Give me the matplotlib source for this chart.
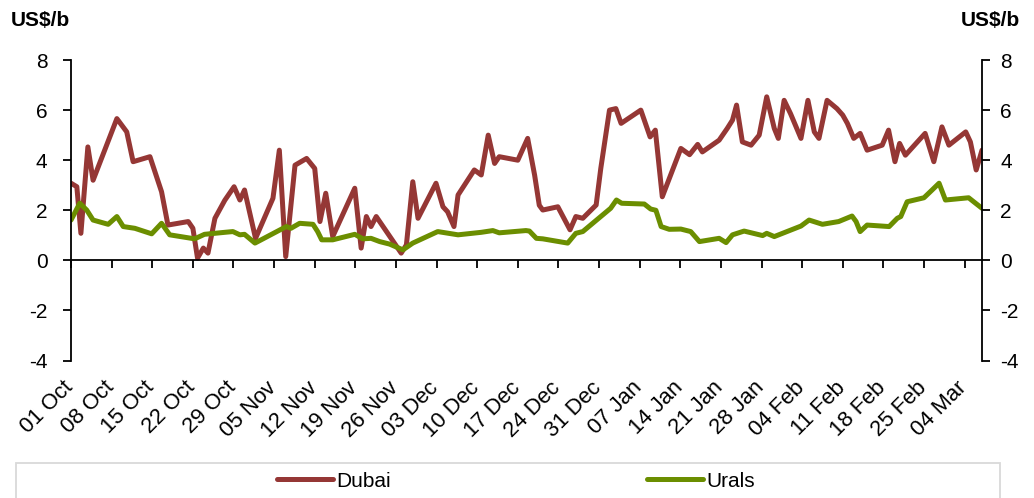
#!/usr/bin/env python3
"""
Dubai and Urals crude differentials, US$/b, Oct to early Mar.

Values are read by eye off a chart; x is days since 01 Oct.
"""

import pandas as pd
import matplotlib.pyplot as plt
from matplotlib.patches import Rectangle
from matplotlib.transforms import ScaledTranslation


# =============================================================================
# Data
# =============================================================================

START = pd.Timestamp("2018-10-01")
X_MAX = 157

DUBAI_DAYS = [
    0, 1.0, 1.7, 2.9, 3.8, 7.9, 9.6, 10.7, 13.6, 15.6, 16.7, 20.2, 21.0,
    21.8, 22.8, 23.6, 24.8, 26.5, 28.1, 29.1, 29.9, 31.8, 34.8, 35.9, 37.0,
    38.6, 40.6, 42.0, 42.9, 43.9, 45.1, 48.9, 50.0, 50.9, 51.7, 52.6, 56.9,
    57.8, 58.9, 59.8, 62.9, 64.1, 64.9, 66.0, 66.7, 69.5, 70.7, 71.9, 73.0,
    73.8, 77.0, 78.7, 79.9, 80.7, 81.3, 83.9, 86.0, 87.0, 88.2, 90.5, 91.3,
    92.8, 93.9, 94.8, 98.2, 99.8, 100.7, 101.9, 105.1, 106.6, 108.0, 108.8,
    111.7, 113.1, 114.0, 114.7, 115.7, 117.2, 118.6, 119.9, 121.2, 121.9,
    122.9, 124.0, 125.8, 127.0, 128.1, 128.9, 130.3, 132.0, 133.0, 133.8,
    134.9, 136.0, 137.2, 139.8, 140.9, 142.0, 142.8, 143.8, 147.2, 148.7,
    150.1, 151.3, 154.2, 155.0, 156.0, 157.0,
]
DUBAI = [
    3.08, 2.94, 1.08, 4.53, 3.20, 5.66, 5.13, 3.94, 4.14, 2.74, 1.41, 1.55, 1.28,
    0.09, 0.49, 0.29, 1.68, 2.40, 2.94, 2.41, 2.81, 0.88, 2.48, 4.40, 0.15,
    3.80, 4.07, 3.67, 1.55, 2.68, 0.95, 2.88, 0.49, 1.75, 1.35, 1.75, 0.29,
    0.62, 3.14, 1.68, 3.08, 2.14, 1.94, 1.35, 2.61, 3.61, 3.41, 5.00, 3.87,
    4.14, 4.00, 4.87, 3.40, 2.20, 2.01, 2.14, 1.22, 1.75, 1.68, 2.21, 3.67,
    6.00, 6.06, 5.47, 6.00, 4.93, 5.20, 2.54, 4.47, 4.22, 4.63, 4.33,
    4.80, 5.27, 5.60, 6.20, 4.73, 4.60, 5.00, 6.53, 5.27, 4.87,
    6.39, 5.86, 4.87, 6.39, 5.13, 4.87, 6.39, 6.06, 5.80, 5.47,
    4.87, 5.07, 4.40, 4.60, 5.20, 3.94, 4.67, 4.20, 5.07, 3.94,
    5.33, 4.60, 5.13, 4.73, 3.61, 4.40,
]

URALS_DAYS = [
    0, 1.5, 2.7, 3.8, 6.4, 7.9, 9.0, 11.0, 13.9, 15.6, 17.0, 21.3, 23.0,
    26.5, 27.9, 29.1, 29.9, 31.7, 37.1, 37.9, 39.4, 41.7, 42.5, 43.2, 45.1,
    48.9, 50.3, 51.7, 53.2, 54.9, 57.2, 58.9, 63.2, 66.7, 70.7, 72.7, 73.8,
    78.4, 79.0, 80.2, 81.3, 85.6, 87.0, 88.2, 93.0, 94.0, 94.9, 98.8, 99.9,
    100.8, 101.7, 103.1, 105.1, 106.8, 108.3, 111.7, 112.9, 114.0, 116.0,
    119.2, 119.9, 121.2, 125.8, 127.2, 129.5, 132.3, 134.6, 135.3, 136.0,
    137.2, 141.0, 142.4, 143.0, 144.1, 147.0, 148.4, 149.6, 150.7, 154.7,
    155.9, 157.0,
]
URALS = [
    1.61, 2.28, 2.01, 1.61, 1.44, 1.75, 1.35, 1.28, 1.06, 1.48, 1.02, 0.86, 1.04,
    1.12, 1.15, 1.02, 1.04, 0.69, 1.35, 1.28, 1.48, 1.44, 1.15, 0.82, 0.82,
    1.04, 0.86, 0.88, 0.75, 0.65, 0.42, 0.69, 1.15, 1.02, 1.12, 1.19, 1.10,
    1.19, 1.17, 0.88, 0.86, 0.69, 1.08, 1.15, 2.08, 2.41, 2.28, 2.25, 2.05,
    2.00, 1.35, 1.24, 1.25, 1.15, 0.75, 0.88, 0.71, 1.02, 1.17,
    0.99, 1.08, 0.95, 1.37, 1.61, 1.44, 1.55, 1.77, 1.55, 1.15,
    1.41, 1.35, 1.68, 1.75, 2.34, 2.50, 2.81, 3.08, 2.41, 2.50,
    2.28, 2.08,
]

TICK_DAYS = list(range(0, 155, 7))
TICK_LABELS = [(START + pd.Timedelta(days=d)).strftime("%d %b") for d in TICK_DAYS]
Y_TICKS = [-4, -2, 0, 2, 4, 6, 8]

DUBAI_COLOR = "#953735"
URALS_COLOR = "#6b8e00"
FONT = 15


# =============================================================================
# Plotting
# =============================================================================

def main() -> None:
    plt.rcParams["font.family"] = ["Liberation Sans", "DejaVu Sans"]
    plt.rcParams["axes.unicode_minus"] = False

    fig = plt.figure(figsize=(10.34, 4.98), dpi=100)
    ax = fig.add_axes([0.0687, 0.276, 0.8810, 0.6035])

    ax.plot(DUBAI_DAYS, DUBAI, color=DUBAI_COLOR, linewidth=3.6,
            solid_joinstyle="round", solid_capstyle="round", label="Dubai")
    ax.plot(URALS_DAYS, URALS, color=URALS_COLOR, linewidth=3.6,
            solid_joinstyle="round", solid_capstyle="round", label="Urals")

    ax.set_xlim(0, X_MAX)
    ax.set_ylim(-4, 8)

    # x axis line sits at zero, its labels below the plot
    ax.spines["bottom"].set_position(("data", 0))
    ax.spines["top"].set_visible(False)
    ax.spines["right"].set_visible(False)
    for side in ("left", "bottom"):
        ax.spines[side].set_linewidth(1.3)
    ax.set_xticks(TICK_DAYS)
    ax.set_xticklabels([])
    ax.tick_params(axis="x", direction="out", length=6, width=1.3)

    sec = ax.secondary_xaxis(0)
    sec.set_xticks(TICK_DAYS)
    sec.set_xticklabels(TICK_LABELS, rotation=45, ha="right",
                        rotation_mode="anchor", fontsize=15.8)
    sec.tick_params(length=0, pad=12)
    sec.spines["bottom"].set_visible(False)
    shift = ScaledTranslation(-6 / 72, 0, fig.dpi_scale_trans)
    for label in sec.get_xticklabels():
        label.set_transform(label.get_transform() + shift)

    ax.set_yticks(Y_TICKS)
    ax.tick_params(axis="y", direction="out", length=6, width=1.3,
                   pad=11, labelsize=FONT)

    ax2 = ax.twinx()
    ax2.set_ylim(-4, 8)
    ax2.set_yticks(Y_TICKS)
    for side in ("left", "top", "bottom"):
        ax2.spines[side].set_visible(False)
    ax2.spines["right"].set_linewidth(1.3)
    ax2.tick_params(axis="y", direction="out", length=6, width=1.3,
                    pad=7, labelsize=FONT)

    fig.text(0.010, 0.958, "US$/b", fontsize=FONT, fontweight="bold",
             ha="left", va="center")
    fig.text(0.986, 0.958, "US$/b", fontsize=FONT, fontweight="bold",
             ha="right", va="center")

    # legend box, open at the bottom edge of the image
    fig.patches.append(Rectangle((16 / 1034, -0.05), 984 / 1034, 0.05 + 35 / 498,
                                 transform=fig.transFigure, fill=False,
                                 edgecolor="#d9d9d9", linewidth=1.3))
    handles, labels = ax.get_legend_handles_labels()
    fig.legend(handles, labels, loc="center", ncol=2, frameon=False,
               bbox_to_anchor=(516 / 1034, 1 - 481 / 498), fontsize=FONT,
               handlelength=2.7, handletextpad=0.15, columnspacing=12.3)

    fig.savefig("out.png", dpi=100)
    plt.close(fig)


if __name__ == "__main__":
    main()
